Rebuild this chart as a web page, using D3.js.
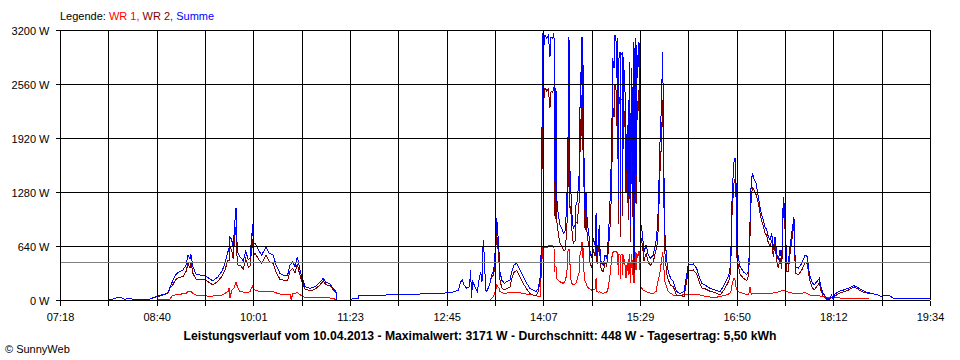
<!DOCTYPE html>
<html><head><meta charset="utf-8">
<script src="https://cdn.jsdelivr.net/npm/d3@7"></script>
<style>
html,body{margin:0;padding:0;background:#fff;}
svg{display:block;}
text{font-family:"Liberation Sans",Arial,sans-serif;}
</style></head><body>
<svg id="chart" width="960" height="360"></svg>
<script>
// ---- data (time = minutes of day, value = W) ----
const timeDomain = [438, 1174];            // 07:18 .. 19:34
const xTickLabels = ["07:18","08:40","10:01","11:23","12:45","14:07","15:29","16:50","18:12","19:34"];
const yTicks = [0, 640, 1280, 1920, 2560, 3200];
const average = 448;
const titleText = "Leistungsverlauf vom 10.04.2013 - Maximalwert: 3171 W - Durchschnitt: 448 W - Tagesertrag: 5,50 kWh";
const legendItems = [["WR 1", "#ff0000"], ["WR 2", "#800000"], ["Summe", "#0000ff"]];

const summe = [[478.6,5],[482.0,5],[485.4,25],[490.5,25],[492.1,10],[497.2,15],[501.5,8],[509.9,8],[514.1,10],[516.7,27],[520.9,47],[526.8,71],[529.4,91],[531.1,154],[532.8,210],[535.3,288],[537.0,316],[539.5,336],[542.1,356],[544.6,415],[546.3,533],[548.0,486],[548.8,541],[550.5,395],[553.1,304],[556.4,296],[560.7,288],[563.2,264],[567.4,225],[571.7,276],[575.1,344],[577.6,435],[580.1,573],[581.2,620],[581.8,750],[583.3,711],[584.6,612],[585.5,850],[586.9,1087],[588.0,573],[590.3,513],[593.1,462],[595.1,581],[597.3,474],[598.7,494],[601.0,897],[601.5,652],[603.0,672],[605.8,593],[608.6,533],[612.3,624],[615.1,553],[618.4,533],[620.7,415],[624.1,316],[626.9,296],[630.6,296],[632.6,415],[634.9,454],[636.8,395],[638.8,513],[640.4,395],[642.5,276],[645.3,158],[649.5,138],[653.7,158],[658.0,210],[660.7,257],[663.0,210],[665.8,198],[669.2,138],[671.5,99],[672.1,0],[683.3,0],[685.0,12],[690.1,12],[690.9,59],[713.8,59],[714.6,71],[742.6,71],[743.4,79],[759.5,80],[766.5,85],[772.2,99],[775.0,118],[777.0,217],[778.3,237],[779.8,178],[782.1,138],[784.3,158],[785.5,356],[786.0,24],[787.1,217],[789.1,158],[791.0,99],[792.7,257],[793.9,336],[795.0,217],[795.6,533],[796.1,711],[797.0,494],[798.1,118],[799.0,99],[801.8,198],[803.2,296],[804.6,336],[805.4,415],[806.6,691],[807.4,976],[808.3,810],[809.4,573],[810.2,336],[811.7,237],[813.9,198],[815.9,217],[818.7,237],[820.1,336],[822.1,415],[824.4,435],[827.2,356],[829.9,276],[832.8,198],[835.6,138],[838.4,118],[840.7,99],[842.6,138],[844.1,257],[844.9,494],[845.8,2074],[846.4,3160],[847.5,3022],[848.3,3140],[849.7,3100],[851.1,3140],[852.5,2884],[853.4,3120],[854.8,3100],[855.9,3160],[856.2,1916],[856.8,1363],[857.6,2509],[858.2,1205],[859.6,1007],[861.0,889],[862.4,850],[863.8,790],[865.2,810],[866.7,1100],[867.8,1955],[868.6,3120],[869.2,1600],[870.0,1363],[870.9,1047],[872.2,850],[873.7,889],[874.5,1126],[875.6,1165],[877.3,1521],[877.9,2272],[878.5,2706],[879.0,2548],[879.6,3120],[880.2,2272],[880.7,2785],[881.3,1679],[882.2,1047],[883.0,1284],[884.1,889],[885.3,810],[886.4,573],[887.8,494],[889.2,731],[890.6,652],[891.5,1027],[892.3,533],[893.4,691],[894.2,889],[895.1,494],[896.3,435],[897.6,415],[899.1,533],[900.5,494],[901.9,731],[903.3,1165],[904.7,1798],[905.6,2864],[906.7,2745],[907.5,3140],[908.4,3062],[909.0,2628],[909.8,3100],[910.3,1200],[910.9,2864],[911.8,2943],[912.2,1000],[912.6,2903],[913.5,2923],[913.9,1300],[914.6,2884],[916.0,2469],[916.8,1521],[917.9,2074],[918.8,1245],[919.6,2824],[920.5,889],[921.3,2745],[922.2,1284],[923.0,3062],[923.6,494],[924.5,3100],[925.3,1482],[925.9,3022],[926.7,2628],[927.6,3062],[928.4,3022],[928.9,731],[929.8,889],[931.0,731],[932.1,573],[933.8,652],[935.7,533],[937.7,494],[939.9,533],[942.2,691],[943.6,889],[944.5,1284],[945.6,1877],[946.4,2153],[947.9,2943],[948.7,1679],[949.8,770],[951.3,454],[952.6,336],[954.6,257],[956.9,217],[959.7,99],[962.5,79],[965.9,100],[967.6,250],[969.5,420],[973.8,427],[976.6,375],[978.8,276],[980.9,198],[983.7,178],[987.9,138],[992.1,118],[996.4,99],[999.1,158],[1002.0,237],[1004.2,316],[1005.4,435],[1006.3,1106],[1007.1,1383],[1008.2,1640],[1009.1,1679],[1009.9,1383],[1010.5,632],[1011.8,513],[1013.3,395],[1016.1,336],[1019.0,296],[1020.6,356],[1021.7,909],[1022.8,1422],[1024.0,1501],[1025.4,1422],[1026.8,1383],[1028.8,1225],[1030.2,1106],[1031.6,1007],[1033.0,948],[1034.4,869],[1035.9,830],[1037.2,750],[1038.7,711],[1040.1,790],[1041.4,593],[1042.9,750],[1044.3,553],[1045.7,474],[1047.1,593],[1048.6,474],[1049.9,1225],[1050.8,1106],[1051.6,869],[1052.8,435],[1054.1,435],[1055.6,632],[1058.9,987],[1060.1,395],[1062.6,375],[1065.5,435],[1068.3,533],[1070.2,513],[1071.9,316],[1073.9,217],[1075.9,178],[1078.2,217],[1080.4,257],[1081.8,158],[1083.7,79],[1086.6,20],[1088.8,8],[1090.9,59],[1092.2,8],[1093.7,71],[1096.4,99],[1100.7,118],[1104.9,138],[1109.1,170],[1112.0,158],[1114.8,130],[1119.0,99],[1124.7,79],[1130.3,59],[1133.2,39],[1135.9,59],[1140.2,47],[1143.0,20],[1151.4,20],[1168.3,20],[1174,20]];

const wr1 = [[520.9,5],[526.8,5],[529.4,8],[531.1,10],[532.8,47],[535.3,59],[537.0,62],[539.5,67],[542.1,75],[544.6,79],[546.3,99],[548.0,107],[548.8,100],[550.5,80],[553.1,59],[556.4,51],[560.7,49],[563.2,47],[567.4,47],[571.7,51],[575.1,60],[577.6,79],[580.1,99],[581.2,146],[581.8,20],[583.3,118],[584.6,130],[585.5,150],[586.9,217],[588.0,158],[590.3,99],[593.1,95],[595.1,90],[597.3,87],[598.7,100],[601.0,170],[601.5,120],[603.0,118],[605.8,105],[608.6,99],[612.3,95],[615.1,97],[618.4,99],[620.7,85],[624.1,71],[626.9,59],[630.6,65],[632.6,70],[633.6,5],[634.9,75],[636.8,79],[638.8,87],[640.4,70],[642.5,50],[645.3,27],[649.5,30],[653.7,31],[658.0,31],[660.7,30],[663.0,30],[665.8,25],[669.2,15],[671.5,8],[672.1,0],[672.5,null],
[801.8,0],[803.2,20],[804.6,40],[805.4,70],[806.6,110],[807.4,178],[808.3,160],[809.4,138],[810.2,99],[811.7,90],[813.9,79],[815.9,82],[818.7,87],[820.1,87],[822.1,87],[824.4,87],[827.2,85],[829.9,79],[832.8,70],[835.6,62],[838.4,59],[840.7,50],[842.6,40],[844.1,39],[844.9,257],[845.8,494],[846.4,632],[847.5,632],[848.3,625],[849.7,620],[851.1,640],[852.5,650],[853.4,652],[854.8,640],[855.9,640],[856.2,336],[856.8,400],[857.6,400],[858.2,257],[859.6,230],[861.0,217],[862.4,205],[863.8,198],[865.2,220],[866.7,300],[867.8,593],[868.6,600],[869.2,500],[870.0,257],[870.9,200],[872.2,178],[873.7,190],[874.5,200],[875.6,250],[877.3,336],[877.9,533],[878.5,560],[879.0,600],[879.6,691],[880.2,500],[880.7,620],[881.3,336],[882.2,220],[883.0,200],[884.1,160],[885.3,138],[886.4,130],[887.8,118],[889.2,125],[890.6,130],[891.5,257],[892.3,100],[893.4,90],[894.2,99],[895.1,95],[896.3,85],[897.6,79],[899.1,85],[900.5,90],[901.9,150],[903.3,300],[904.7,494],[905.6,560],[906.7,573],[907.5,580],[908.4,573],[909.0,560],[909.8,560],[910.3,300],[910.9,540],[911.8,533],[912.2,250],[912.6,533],[913.5,540],[913.9,300],[914.6,530],[916.0,415],[916.8,257],[917.9,450],[918.8,300],[919.6,550],[920.5,200],[921.3,540],[922.2,300],[923.0,540],[923.6,200],[924.5,573],[925.3,350],[925.9,560],[926.7,500],[927.6,573],[928.4,573],[928.9,178],[929.8,150],[931.0,118],[932.1,110],[933.8,99],[935.7,90],[937.7,80],[939.9,79],[942.2,100],[943.6,200],[944.5,257],[945.6,336],[946.4,415],[947.9,573],[948.7,400],[949.8,217],[951.3,150],[952.6,99],[954.6,80],[956.9,59],[959.7,55],[962.5,50],[965.9,65],[967.6,71],[969.5,71],[973.8,71],[976.6,65],[978.8,60],[980.9,55],[983.7,45],[987.9,35],[992.1,31],[996.4,40],[999.1,50],[1002.0,62],[1004.2,75],[1005.4,90],[1006.3,158],[1007.1,220],[1008.2,257],[1009.1,237],[1009.9,158],[1010.5,120],[1011.8,99],[1013.3,90],[1016.1,79],[1019.0,65],[1020.6,59],[1021.7,158],[1022.8,70],[1024.0,75],[1025.4,79],[1026.8,79],[1028.8,75],[1031.6,74],[1035.9,71],[1038.7,75],[1042.9,87],[1047.1,99],[1049.9,118],[1052.8,99],[1055.6,87],[1058.9,79],[1062.6,75],[1065.5,80],[1068.3,87],[1070.2,80],[1071.9,60],[1073.9,55],[1078.2,59],[1080.4,50],[1083.7,39],[1086.6,30],[1090.9,27],[1096.4,24],[1104.9,21],[1114.8,18],[1119.0,15],[1122.0,12]];

const wr2 = [[478.6,5],[482.0,5],[485.4,25],[490.5,25],[492.1,10],[497.2,15],[501.5,8],[509.9,8],[514.1,10],[516.7,27],[520.9,42],[526.8,66],[529.4,83],[531.1,144],[532.8,163],[535.3,229],[537.0,254],[539.5,269],[542.1,281],[544.6,336],[546.3,434],[548.0,379],[548.8,441],[550.5,315],[553.1,245],[556.4,245],[560.7,239],[563.2,217],[567.4,178],[571.7,225],[575.1,284],[577.6,356],[580.1,474],[581.2,474],[581.8,630],[583.3,593],[584.6,482],[585.5,700],[586.9,870],[588.0,415],[590.3,414],[593.1,367],[595.1,491],[597.3,387],[598.7,394],[601.0,727],[601.5,532],[603.0,554],[605.8,488],[608.6,434],[612.3,529],[615.1,456],[618.4,434],[620.7,330],[624.1,245],[626.9,237],[630.6,231],[632.6,345],[634.9,379],[636.8,316],[638.8,426],[640.4,325],[642.5,226],[645.3,131],[649.5,108],[653.7,127],[658.0,179],[660.7,227],[663.0,180],[665.8,173],[669.2,123],[671.5,91],[672.1,0],[672.5,null],
[801.8,198],[803.2,276],[804.6,296],[805.4,345],[806.6,581],[807.4,798],[808.3,650],[809.4,435],[810.2,237],[811.7,147],[813.9,119],[815.9,135],[818.7,150],[820.1,249],[822.1,328],[824.4,348],[827.2,271],[829.9,197],[832.8,128],[835.6,76],[838.4,59],[840.7,49],[842.6,98],[844.1,218],[844.9,237],[845.8,1580],[846.4,2528],[847.5,2390],[848.3,2515],[849.7,2480],[851.1,2500],[852.5,2280],[853.4,2468],[854.8,2460],[855.9,2520],[856.2,1580],[856.8,963],[857.6,2109],[858.2,948],[859.6,777],[861.0,672],[862.4,645],[863.8,592],[865.2,590],[866.7,800],[867.8,1362],[868.6,2520],[869.2,1100],[870.0,1106],[870.9,847],[872.2,672],[873.7,699],[874.5,926],[875.6,915],[877.3,1185],[877.9,1739],[878.5,2146],[879.0,1948],[879.6,2429],[880.2,1772],[880.7,2165],[881.3,1343],[882.2,827],[883.0,1084],[884.1,729],[885.3,672],[886.4,443],[887.8,376],[889.2,606],[890.6,522],[891.5,770],[892.3,433],[893.4,601],[894.2,790],[895.1,399],[896.3,350],[897.6,336],[899.1,448],[900.5,404],[901.9,581],[903.3,865],[904.7,1304],[905.6,2304],[906.7,2172],[907.5,2560],[908.4,2489],[909.0,2068],[909.8,2540],[910.3,900],[910.9,2324],[911.8,2410],[912.2,750],[912.6,2370],[913.5,2383],[913.9,1000],[914.6,2354],[916.0,2054],[916.8,1264],[917.9,1624],[918.8,945],[919.6,2274],[920.5,689],[921.3,2205],[922.2,984],[923.0,2522],[923.6,294],[924.5,2527],[925.3,1132],[925.9,2462],[926.7,2128],[927.6,2489],[928.4,2449],[928.9,553],[929.8,739],[931.0,613],[932.1,463],[933.8,553],[935.7,443],[937.7,414],[939.9,454],[942.2,591],[943.6,689],[944.5,1027],[945.6,1541],[946.4,1738],[947.9,2370],[948.7,1279],[949.8,553],[951.3,304],[952.6,237],[954.6,177],[956.9,158],[959.7,50],[962.5,60],[965.9,40],[967.6,180],[969.5,349],[973.8,356],[976.6,310],[978.8,216],[980.9,143],[983.7,133],[987.9,103],[992.1,87],[996.4,59],[999.1,108],[1002.0,175],[1004.2,241],[1005.4,345],[1006.3,948],[1007.1,1163],[1008.2,1383],[1009.1,1442],[1009.9,1225],[1010.5,512],[1011.8,414],[1013.3,305],[1016.1,257],[1019.0,231],[1020.6,297],[1021.7,751],[1022.8,1250],[1024.0,1330],[1025.4,1300],[1026.8,1250],[1028.8,1150],[1030.2,1031],[1031.6,933],[1033.0,875],[1034.4,797],[1035.9,759],[1037.2,679],[1038.7,636],[1040.1,710],[1041.4,510],[1042.9,663],[1044.3,463],[1045.7,379],[1047.1,494],[1048.6,369],[1049.9,1107],[1050.8,996],[1051.6,764],[1052.8,336],[1054.1,340],[1055.6,545],[1058.9,908],[1060.1,316],[1062.6,300],[1065.5,355],[1068.3,446],[1070.2,433],[1071.9,256],[1073.9,162],[1075.9,119],[1078.2,158],[1080.4,207],[1081.8,113],[1083.7,40],[1086.6,10],[1088.8,5],[1090.9,32],[1092.2,5],[1093.7,46],[1096.4,75],[1100.7,96],[1104.9,117],[1109.1,150],[1112.0,139],[1114.8,112],[1119.0,84],[1124.7,79],[1130.3,59],[1133.2,39],[1135.9,59],[1140.2,47],[1143.0,20],[1151.4,20],[1168.3,20],[1174,20]];

// ---- layout ----
const L = 60, R = 930, T = 30, B = 300;
const svg = d3.select("#chart");
const x = d3.scaleLinear().domain(timeDomain).range([L, R]);
const y = d3.scaleLinear().domain([0, 3200]).range([B, T]);
const nInt = 18;
const xTickVals = d3.range(nInt + 1).map(i => timeDomain[0] + i * (timeDomain[1] - timeDomain[0]) / nInt);

// data lines
const line = d3.line().defined(d => d[1] != null).x(d => x(d[0])).y(d => y(d[1]));
const series = [[wr1, "#ff0000"], [wr2, "#800000"], [summe, "#0000ff"]];
svg.append("g").selectAll("path").data(series).join("path")
  .attr("d", d => line(d[0]))
  .attr("fill", "none").attr("stroke", d => d[1]).attr("stroke-width", 1)
  .attr("shape-rendering", "crispEdges");

// grid
const grid = svg.append("g").attr("shape-rendering", "crispEdges");
grid.selectAll("line.h").data(yTicks.filter(v => v > 0)).join("line")
  .attr("x1", L).attr("x2", R).attr("y1", d => Math.round(y(d)) + 0.5).attr("y2", d => Math.round(y(d)) + 0.5)
  .attr("stroke", "#000");
grid.selectAll("line.v").data(xTickVals.slice(1)).join("line")
  .attr("x1", d => Math.round(x(d)) + 0.5).attr("x2", d => Math.round(x(d)) + 0.5).attr("y1", T).attr("y2", B)
  .attr("stroke", "#000");
grid.append("line").attr("x1", L + 1).attr("x2", R).attr("y1", Math.round(y(average)) + 0.5).attr("y2", Math.round(y(average)) + 0.5)
  .attr("stroke", "#808080");

// axes
const yAxis = d3.axisLeft(y).tickValues(yTicks).tickSize(5).tickSizeOuter(0).tickPadding(6)
  .tickFormat(d => d + " W");
const gy = svg.append("g").attr("transform", `translate(${L + 0.5},0)`).call(yAxis);
const xAxis = d3.axisBottom(x).tickValues(xTickVals).tickSize(5).tickSizeOuter(0).tickPadding(8)
  .tickFormat((d, i) => i % 2 === 0 ? xTickLabels[i / 2] : "");
const gx = svg.append("g").attr("transform", `translate(0,${B + 0.5})`).call(xAxis);
[gx, gy].forEach(g => {
  g.attr("shape-rendering", "crispEdges");
  g.selectAll("path,line").attr("stroke", "#000");
  g.selectAll("text").attr("fill", "#000").style("font-size", "11px").style("font-family", '"Liberation Sans",Arial,sans-serif');
});
gy.selectAll("text").attr("dy", "0.42em");
gx.selectAll(".tick line").attr("y2", 5);
gx.select(".domain").attr("d", `M${L},0H${R}`);
gy.select(".domain").attr("d", `M0,${T}V${B}`);

// legend
const lg = svg.append("text").attr("x", 60).attr("y", 20).style("font-size", "11px");
lg.append("tspan").attr("fill", "#000").text("Legende: ");
legendItems.forEach((it, i) => {
  lg.append("tspan").attr("fill", it[1]).text(it[0] + (i < legendItems.length - 1 ? ", " : ""));
});

// title & footer
svg.append("text").attr("x", 480).attr("y", 340).attr("text-anchor", "middle")
  .style("font-size", "12px").style("font-weight", "bold")
  .attr("textLength", 593).attr("lengthAdjust", "spacingAndGlyphs").text(titleText);
svg.append("text").attr("x", 5).attr("y", 353).style("font-size", "11px").text("© SunnyWeb");
</script>
</body></html>
